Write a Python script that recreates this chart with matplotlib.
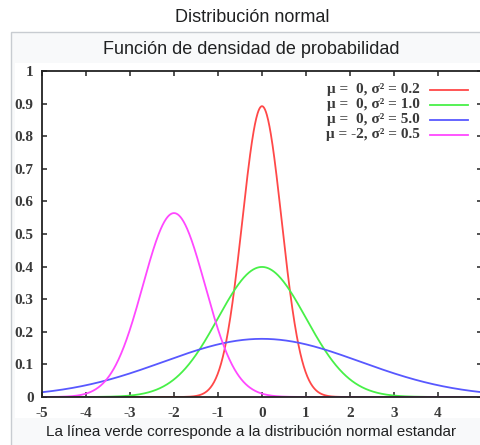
import numpy as np
import matplotlib
matplotlib.use("Agg")
import matplotlib.pyplot as plt
from matplotlib.patches import Rectangle
from matplotlib.lines import Line2D

# Data: parameters of the four normal distributions
mus = [0, 0, 0, -2]
sigma2s = [0.2, 1.0, 5.0, 0.5]
colors = ["#ff4848", "#48f048", "#5858ff", "#ff48ff"]
labels = ["μ =  0, σ² = 0.2", "μ =  0, σ² = 1.0", "μ =  0, σ² = 5.0", "μ = -2, σ² = 0.5"]
xticks = [-5, -4, -3, -2, -1, 0, 1, 2, 3, 4]
xticklabels = ["-5", "-4", "-3", "-2", "-1", "0", "1", "2", "3", "4"]
yticks = [0, 0.1, 0.2, 0.3, 0.4, 0.5, 0.6, 0.7, 0.8, 0.9, 1]
yticklabels = ["0", "0.1", "0.2", "0.3", "0.4", "0.5", "0.6", "0.7", "0.8", "0.9", "1"]

W, H = 480, 445
fig = plt.figure(figsize=(W / 100, H / 100), dpi=100)
fig.patch.set_facecolor("white")

def fx(px):
    return px / W

def fy(py):
    return 1 - py / H

# Thumbnail box
fig.patches.append(Rectangle((fx(11), fy(460)), fx(500) - fx(11), fy(32) - fy(460),
                             transform=fig.transFigure, facecolor="#f8f9fa",
                             edgecolor="#c8ccd1", linewidth=1.0, zorder=0))
fig.patches.append(Rectangle((fx(15), fy(418)), fx(500) - fx(15), fy(63) - fy(418),
                             transform=fig.transFigure, facecolor="white",
                             edgecolor="none", zorder=0.5))

fig.text(fx(252), fy(18), "Distribución normal", ha="center", va="center",
         fontsize=13, family="Liberation Sans", color="#202122")
fig.text(fx(251), fy(50), "Función de densidad de probabilidad", ha="center", va="center",
         fontsize=13, family="Liberation Sans", color="#202122")
fig.text(fx(251), fy(432), "La línea verde corresponde a la distribución normal estandar",
         ha="center", va="center", fontsize=11, family="Liberation Sans", color="#202122")

ax = fig.add_axes([fx(42), fy(397), fx(482) - fx(42), fy(71) - fy(397)])
ax.set_zorder(2)
ax.set_facecolor("white")

x = np.linspace(-5, 5, 1001)
for mu, s2, c in zip(mus, sigma2s, colors):
    y = np.exp(-(x - mu) ** 2 / (2 * s2)) / np.sqrt(2 * np.pi * s2)
    ax.plot(x, y, color=c, linewidth=1.3)

ax.set_xlim(-5, 5)
ax.set_ylim(0, 1)
ax.set_xticks(xticks)
ax.set_xticklabels(xticklabels)
ax.set_yticks(yticks)
ax.set_yticklabels(yticklabels)
ax.tick_params(direction="in", length=3.6, width=1.1, color="#222222",
               top=True, right=True, labelsize=11)
ax.tick_params(axis="x", pad=7)
ax.tick_params(axis="y", pad=6)
for lab in ax.get_xticklabels() + ax.get_yticklabels():
    lab.set_family("Liberation Serif")
    lab.set_weight("bold")
    lab.set_color("#3a3a3a")
for sp in ax.spines.values():
    sp.set_linewidth(1.3)
    sp.set_color("#222222")

# Legend (right-aligned text, sample lines to the right)
rows_y = [0.942, 0.896, 0.850, 0.804]
for lab, c, ry in zip(labels, colors, rows_y):
    ax.text(0.859, ry, lab, transform=ax.transAxes, ha="right", va="center",
            fontsize=11, family="Liberation Serif", weight="bold", color="#3a3a3a")
    ax.add_line(Line2D([0.882, 0.968], [ry, ry], transform=ax.transAxes,
                       color=c, linewidth=1.3))

fig.savefig("out.png", dpi=100)
